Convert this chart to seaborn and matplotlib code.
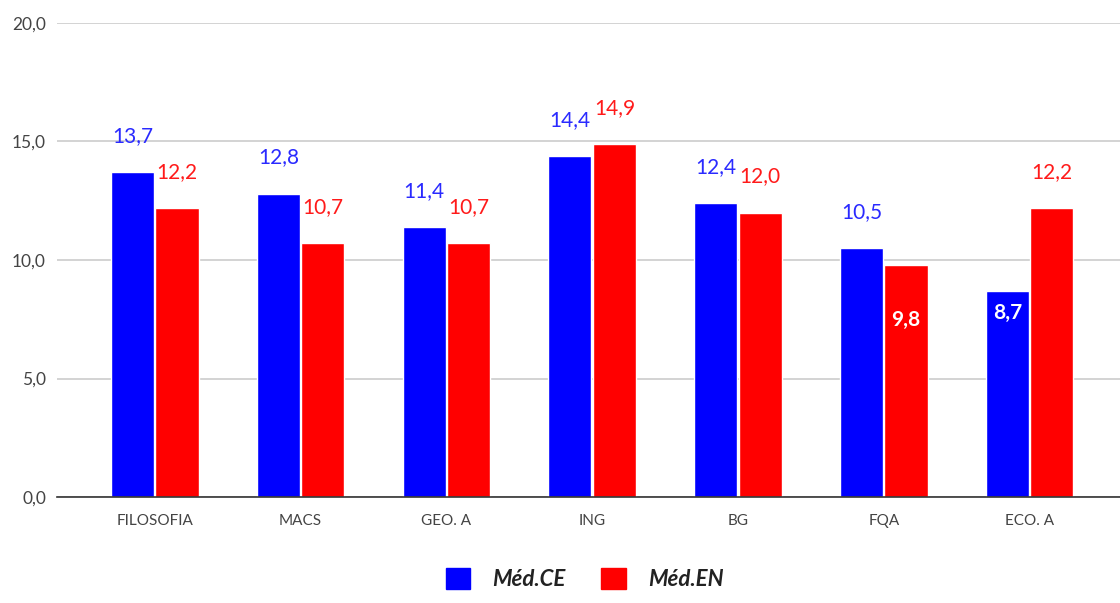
import matplotlib
matplotlib.use("Agg")
import matplotlib.pyplot as plt
import matplotlib.ticker as mticker
import pandas as pd
import seaborn as sns

# dados
disciplinas = ['FILOSOFIA', 'MACS', 'GEO. A', 'ING', 'BG', 'FQA', 'ECO. A']
med_ce = [13.7, 12.8, 11.4, 14.4, 12.4, 10.5, 8.7]
med_en = [12.2, 10.7, 10.7, 14.9, 12.0, 9.8, 12.2]
series = ['Méd.CE', 'Méd.EN']

cores = {'Méd.CE': '#0000ff', 'Méd.EN': '#ff0000'}
cores_rotulo = {'Méd.CE': '#2a2aff', 'Méd.EN': '#ff1a1a'}
# rótulos dentro da barra (offset em px a partir do topo)
dentro = {('Méd.EN', 'FQA'): -55, ('Méd.CE', 'ECO. A'): -22}

df = pd.DataFrame({
    'Disciplina': disciplinas * 2,
    'Média': med_ce + med_en,
    'Série': [series[0]] * len(disciplinas) + [series[1]] * len(disciplinas),
})

sns.set_style('white')
plt.rcParams['font.family'] = ['Lato', 'DejaVu Sans']

fig = plt.figure(figsize=(11.2, 6.03), dpi=100)
ax = fig.add_axes([57 / 1120, 106 / 603, 1 - 57 / 1120, 474 / 603])

sns.barplot(data=df, x='Disciplina', y='Média', hue='Série', palette=cores,
            width=0.61, gap=0.03, saturation=1, ax=ax, legend=False, zorder=3)

ax.set_ylim(0, 20)
ax.set_xlim(-0.67, 6.62)
ax.set_yticks([0, 5, 10, 15, 20])
ax.yaxis.set_major_formatter(mticker.FuncFormatter(lambda v, p: f'{v:.1f}'.replace('.', ',')))
ax.grid(axis='y', color='#cccccc', linewidth=1.2, zorder=0)
for s in ['top', 'right', 'left']:
    ax.spines[s].set_visible(False)
ax.spines['bottom'].set_color('#333333')
ax.spines['bottom'].set_linewidth(1.2)
ax.spines['bottom'].set_zorder(4)
ax.tick_params(axis='both', length=0)
ax.tick_params(axis='y', labelsize=12.5, labelcolor='#444444', pad=8)
ax.tick_params(axis='x', labelsize=11, labelcolor='#444444', pad=12)
ax.set_xlabel('')
ax.set_ylabel('')

# rótulos de valores
for serie, cont in zip(series, ax.containers):
    for disc, barra in zip(disciplinas, cont.patches):
        v = barra.get_height()
        xc = barra.get_x() + barra.get_width() / 2
        txt = f'{v:.1f}'.replace('.', ',')
        if (serie, disc) in dentro:
            ax.annotate(txt, (xc, v), xytext=(0, dentro[(serie, disc)] * 0.72),
                        textcoords='offset points', ha='center', va='center',
                        fontsize=15, color='white', fontweight='bold')
        else:
            ax.annotate(txt, (xc, v), xytext=(0, 26),
                        textcoords='offset points', ha='center', va='center',
                        fontsize=15, color=cores_rotulo[serie])

handles = [plt.Rectangle((0, 0), 1, 1, color=cores[s]) for s in series]
fig.legend(handles, series, loc='lower center', bbox_to_anchor=(0.522, -0.012),
           ncol=2, frameon=False, handlelength=1.1, handleheight=1.1,
           columnspacing=1.6, handletextpad=1.0,
           prop={'size': 16, 'weight': 'bold', 'style': 'italic'}, labelcolor='#222222')

fig.savefig('out.png', dpi=100)
